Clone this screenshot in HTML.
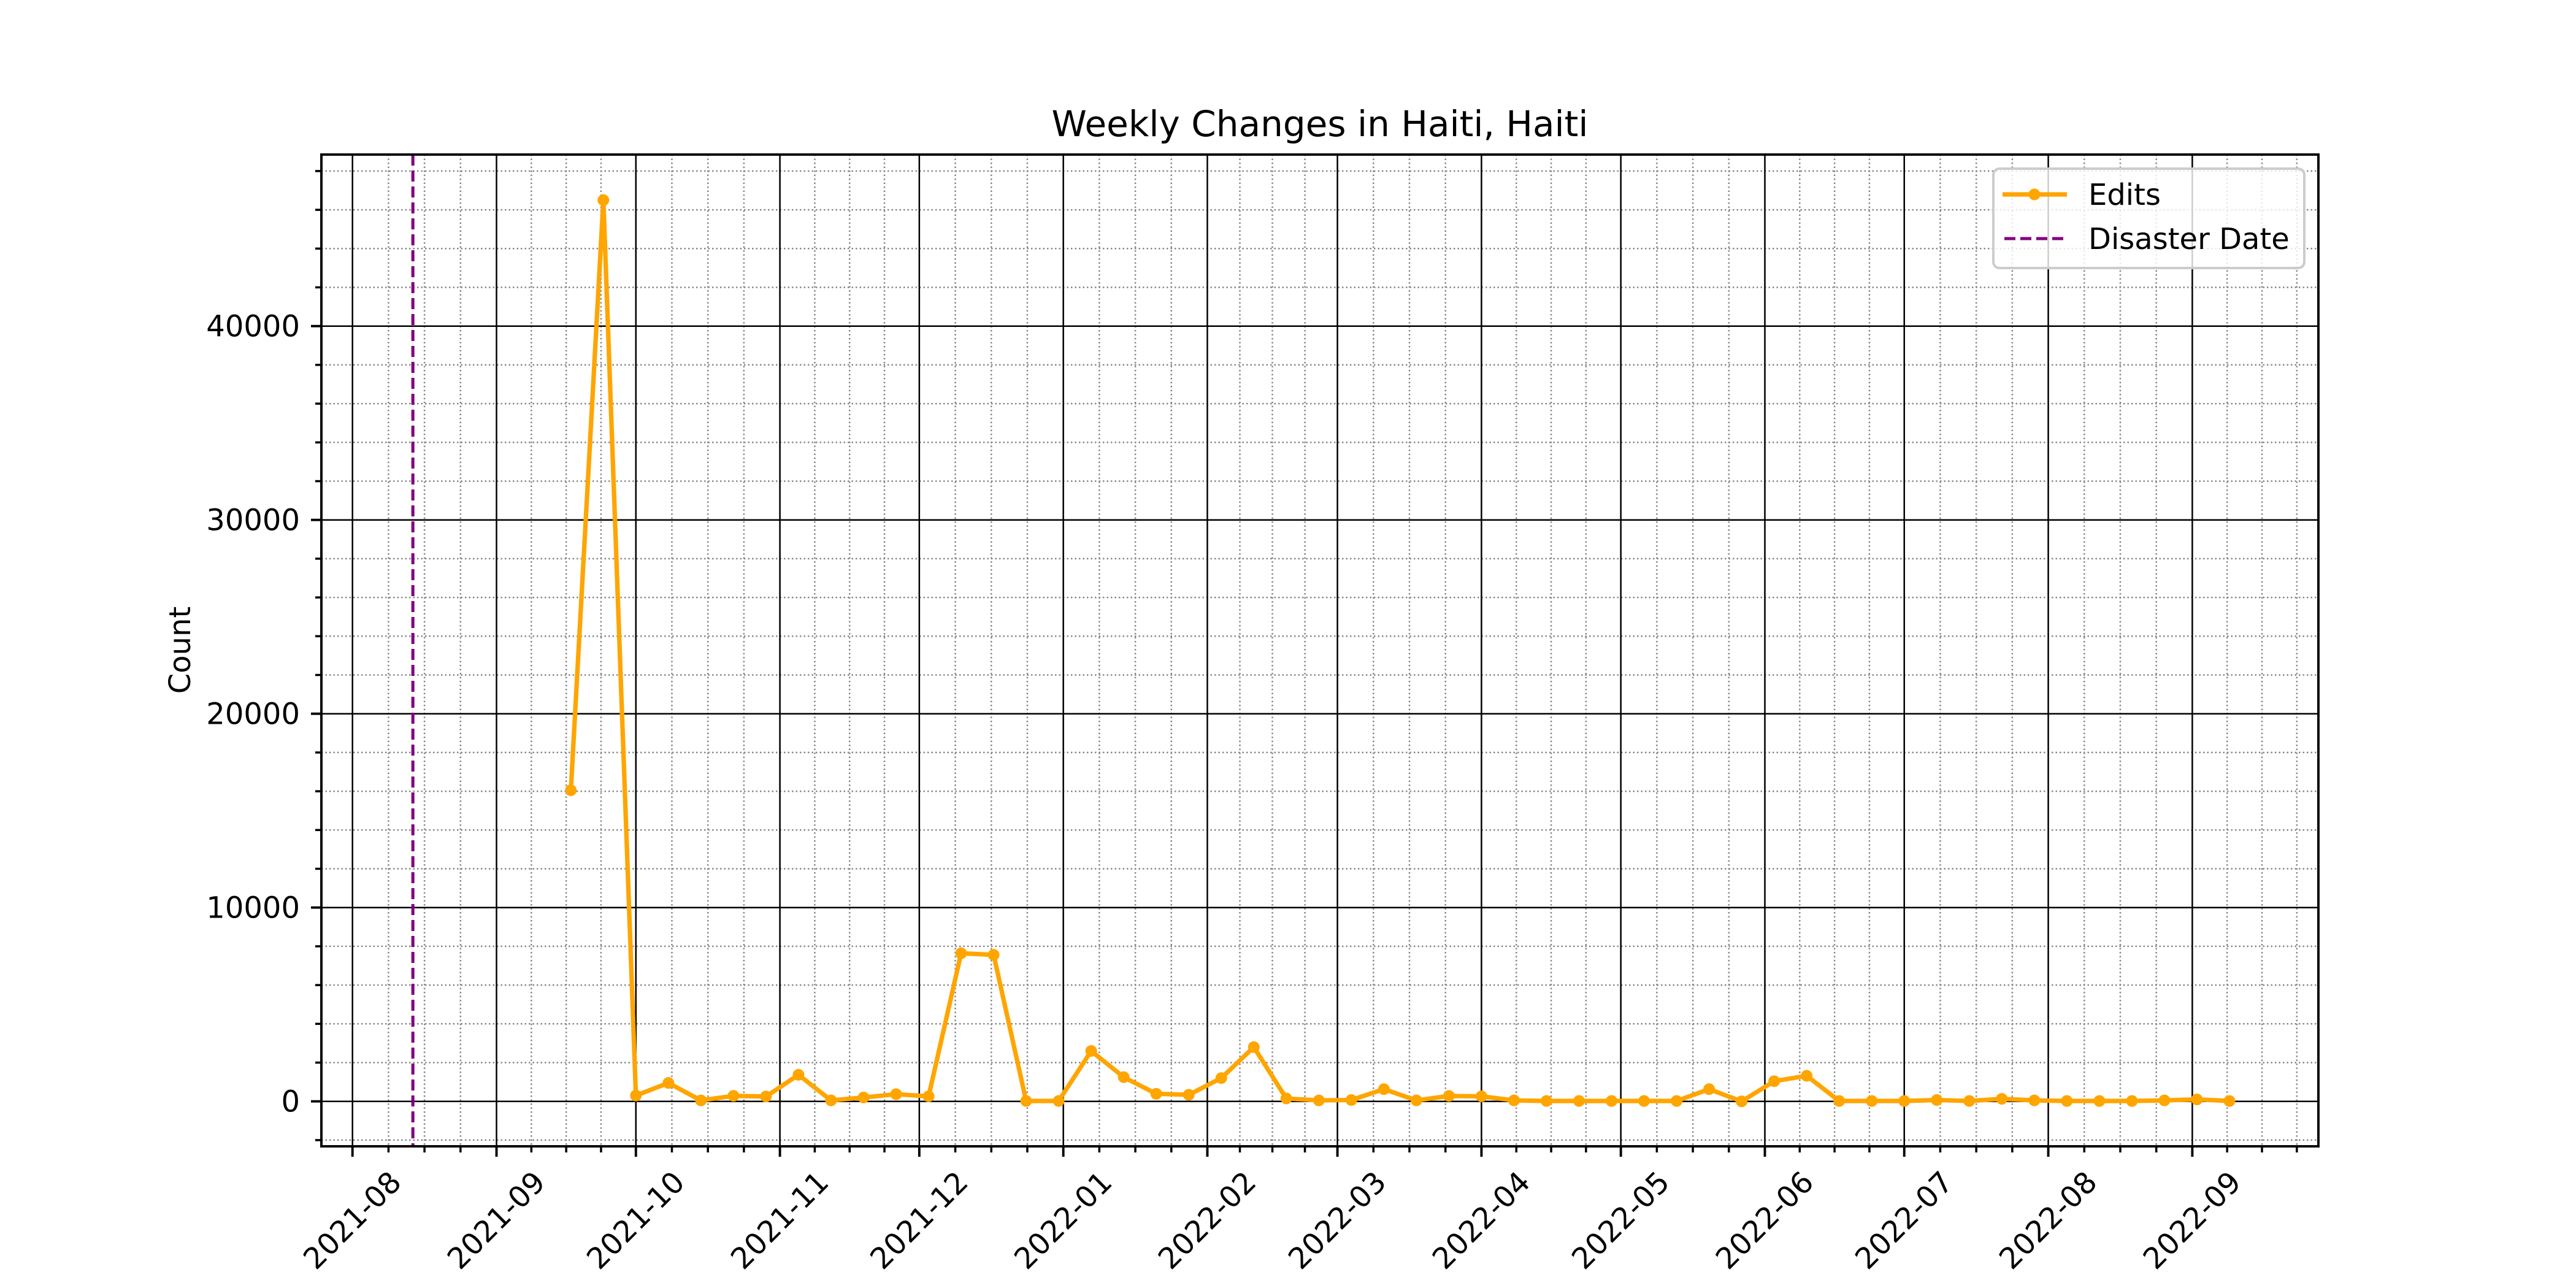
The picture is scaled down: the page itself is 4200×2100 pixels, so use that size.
<!DOCTYPE html>
<html><head><meta charset="utf-8"><style>
html,body{margin:0;padding:0;background:#fff}
svg{display:block}
text{font-family:"DejaVu Sans","Liberation Sans",sans-serif;fill:#000}
</style></head><body>
<svg id="chart" width="4200" height="2100" viewBox="0 0 4200 2100" xmlns="http://www.w3.org/2000/svg">
<rect width="4200" height="2100" fill="#fff"/>
<text x="2152" y="222" font-size="58" text-anchor="middle">Weekly Changes in Haiti, Haiti</text>
<text x="0" y="0" font-size="48" text-anchor="middle" transform="translate(310,1060) rotate(-90)">Count</text>
<g id="grid"></g>
<g id="marks"></g>
<g id="axes"></g>
<g>
<rect x="3250" y="275" width="507" height="162" rx="10" fill="#fff" fill-opacity="0.8" stroke="#cccccc" stroke-width="4"/>
<line x1="3265" y1="317" x2="3370" y2="317" stroke="#FFA500" stroke-width="7.3"/>
<circle cx="3317" cy="317" r="9.5" fill="#FFA500"/>
<text x="3405" y="334" font-size="48">Edits</text>
<line x1="3268" y1="389" x2="3368" y2="389" stroke="#800080" stroke-width="5" stroke-dasharray="18,8"/>
<text x="3405" y="406" font-size="48">Disaster Date</text>
</g>
</svg>
<script>
const startDate = "2021-09-17";
const editValues = [16050, 46500, 300, 950, 50, 285, 250, 1370, 50, 200, 370, 260, 7640, 7560, 20, 20, 2600, 1250, 390, 340, 1200, 2800, 150, 50, 70, 630, 50, 280, 260, 50, 20, 20, 20, 20, 20, 630, 0, 1040, 1320, 20, 20, 20, 70, 20, 130, 50, 20, 20, 20, 50, 100, 20];
const yTicks = [0, 10000, 20000, 30000, 40000];
const monthTicks = ["2021-08","2021-09","2021-10","2021-11","2021-12","2022-01","2022-02","2022-03","2022-04","2022-05","2022-06","2022-07","2022-08","2022-09"];
const disasterDate = "2021-08-14";

const NS = "http://www.w3.org/2000/svg";
const L = 524, R = 3780, T = 252, B = 1869;
const day0 = Date.UTC(2021, 7, 1);
const dayOf = s => { const p = s.split("-").map(Number); return (Date.UTC(p[0], p[1]-1, p[2]||1) - day0) / 86400000; };
const xs = d => 574.7 + 7.575 * d;
const ys = v => 1795.7 - v * 0.0316;
function mk(tag, attrs, parent) { const e = document.createElementNS(NS, tag); for (const k in attrs) e.setAttribute(k, attrs[k]); parent.appendChild(e); return e; }
const grid = document.getElementById("grid"), marks = document.getElementById("marks"), axes = document.getElementById("axes");

// y minor grid & ticks
for (let v = -2000; v <= 48000; v += 2000) {
  const y = ys(v); if (y < T || y > B) continue;
  if (v % 10000 !== 0) {
    const g = mk("line", {x1: L, x2: R, y1: y, y2: y, stroke: "#888", "stroke-width": 2.5, "stroke-dasharray": "2.5,4"}, grid);
    
    
    mk("line", {x1: L-10, x2: L, y1: y, y2: y, stroke: "#000", "stroke-width": 3.5}, axes);
  }
}
// x months: major + minors
for (let i = 0; i < monthTicks.length + 1; i++) {
  const p = (i < monthTicks.length ? monthTicks[i] : "2022-10").split("-").map(Number);
  const prev = new Date(Date.UTC(p[0], p[1]-2, 1));
  const d1 = (Date.UTC(p[0], p[1]-1, 1) - day0) / 86400000;
  const d0 = (prev.getTime() - day0) / 86400000;
  for (let k = 1; k < 4; k++) {
    const x = xs(d0 + (d1 - d0) * k / 4); if (x < L || x > R) continue;
    const g = mk("line", {x1: x, x2: x, y1: T, y2: B, stroke: "#888", "stroke-width": 2.5, "stroke-dasharray": "2.5,4"}, grid);
    
    
    mk("line", {x1: x, x2: x, y1: B, y2: B+10, stroke: "#000", "stroke-width": 3.5}, axes);
  }
}
monthTicks.forEach(m => {
  const x = xs(dayOf(m));
  const g = mk("line", {x1: x, x2: x, y1: T, y2: B, stroke: "#000", "stroke-width": 2.5}, grid);
  
  
  mk("line", {x1: x, x2: x, y1: B, y2: B+17, stroke: "#000", "stroke-width": 3.9}, axes);
  const t = mk("text", {x: 0, y: 0, "font-size": 48, "text-anchor": "middle", "dominant-baseline": "central", transform: `translate(${x},${1990}) rotate(-45)`}, axes);
  t.textContent = m;
  
  
});
yTicks.forEach(v => {
  const y = ys(v);
  const g = mk("line", {x1: L, x2: R, y1: y, y2: y, stroke: "#000", "stroke-width": 2.5}, grid);
  
  
  mk("line", {x1: L-17, x2: L, y1: y, y2: y, stroke: "#000", "stroke-width": 3.9}, axes);
  const t = mk("text", {x: L-35, y: y+17, "font-size": 48, "text-anchor": "end"}, axes);
  t.textContent = String(v);
  
  
});
// spines
const sp = mk("rect", {x: L, y: T, width: R-L, height: B-T, fill: "none", stroke: "#000", "stroke-width": 3.9}, axes);



// disaster line
const dx = xs(dayOf(disasterDate));
const dl = mk("line", {x1: dx, x2: dx, y1: T, y2: B, stroke: "#800080", "stroke-width": 5, "stroke-dasharray": "18,8"}, marks);



// edits series
const s0 = dayOf(startDate);
const pts = editValues.map((v, i) => [xs(s0 + 7*i), ys(v)]);
const pl = mk("polyline", {points: pts.map(p => p.join(",")).join(" "), fill: "none", stroke: "#FFA500", "stroke-width": 7.3, "stroke-linejoin": "round"}, marks);


pts.forEach(p => {
  const c = mk("circle", {cx: p[0], cy: p[1], r: 9.5, fill: "#FFA500"}, marks);
  
  
});
</script>
</body></html>
